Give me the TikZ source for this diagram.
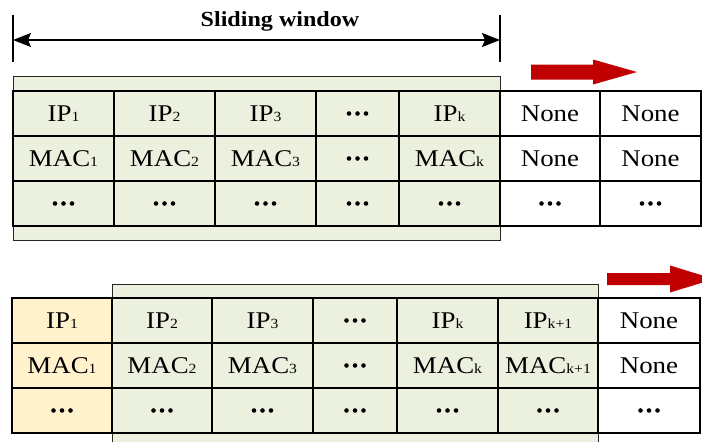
\documentclass[tikz,border=0pt]{standalone}
\usepackage{fontspec}
\setmainfont{Liberation Serif}[FakeStretch=1.12]
\usetikzlibrary{arrows.meta}
\definecolor{wingreen}{RGB}{235,241,222}
\definecolor{oldyellow}{RGB}{255,242,204}
\definecolor{shiftred}{RGB}{192,0,0}
\newcommand\sub[1]{{\fontsize{14}{14}\selectfont #1}}
\newcommand\celldots{\tikz{\foreach \i in {0,1,2} \fill[black] (\i*8.5pt,0pt) circle[radius=2.3pt];}}
\begin{document}
\begin{tikzpicture}[x=1pt,y=-1pt,
  cell/.style={draw=black, line width=1.6pt, inner sep=0pt, anchor=center,
    font=\fontsize{24}{28}\selectfont},
  winbox/.style={draw=black!85, line width=1.4pt, fill=wingreen, inner sep=0pt,
    anchor=north west},
  redarrow/.style={fill=shiftred, draw=none},
  dimline/.style={line width=1.2pt, draw=black}]
\useasboundingbox (0,0) rectangle (702,442);

% ---------------- sliding window label ----------------
\coordinate (tl1) at (13,15);  \coordinate (tl2) at (13,62);
\coordinate (tr1) at (500,15); \coordinate (tr2) at (500,62);
\coordinate (dl) at (13,40);   \coordinate (dr) at (500,40);
\draw[dimline] (tl1) -- (tl2);
\draw[dimline] (tr1) -- (tr2);
\draw[dimline, {Stealth[length=18pt 0,width=14pt 0,inset=3pt 0]}-{Stealth[length=18pt 0,width=14pt 0,inset=3pt 0]}] (dl) -- (dr);
\node[font=\bfseries\fontsize{21.5}{24}\selectfont] (swlabel) at (280,21) {Sliding window};

% ---------------- top table ----------------
\node[winbox, minimum width=487pt, minimum height=164pt] (win1) at (13,76) {};
\foreach \n/\xa/\xb/\f/\t in {1/13/114/none/{IP\sub{1}}, 2/114/215/none/{IP\sub{2}},
   3/215/316/none/{IP\sub{3}}, 4/316/399/none/{\celldots}, 5/399/500/none/{IP\sub{k}},
   6/500/600/white/{None}, 7/600/701/white/{None}}
  \node[cell, fill=\f, minimum width={(\xb-\xa)*1pt}, minimum height=45pt]
    (a1\n) at ({(\xa+\xb)/2},113.5) {\t};
\foreach \n/\xa/\xb/\f/\t in {1/13/114/none/{MAC\sub{1}}, 2/114/215/none/{MAC\sub{2}},
   3/215/316/none/{MAC\sub{3}}, 4/316/399/none/{\celldots}, 5/399/500/none/{MAC\sub{k}},
   6/500/600/white/{None}, 7/600/701/white/{None}}
  \node[cell, fill=\f, minimum width={(\xb-\xa)*1pt}, minimum height=45pt]
    (a2\n) at ({(\xa+\xb)/2},158.5) {\t};
\foreach \n/\xa/\xb/\f in {1/13/114/none, 2/114/215/none, 3/215/316/none, 4/316/399/none,
   5/399/500/none, 6/500/600/white, 7/600/701/white}
  \node[cell, fill=\f, minimum width={(\xb-\xa)*1pt}, minimum height=45pt]
    (a3\n) at ({(\xa+\xb)/2},203.5) {\celldots};

% top red arrow
\fill[redarrow] (531,64.5) -- (593,64.5) -- (593,59.5) -- (637,72) -- (593,84.5)
  -- (593,79.5) -- (531,79.5) -- cycle;

% ---------------- bottom table ----------------
\node[winbox, minimum width=486pt, minimum height=164pt] (win2) at (112,284) {};
\foreach \n/\xa/\xb/\f/\t in {1/12/112/oldyellow/{IP\sub{1}}, 2/112/212/none/{IP\sub{2}},
   3/212/313/none/{IP\sub{3}}, 4/313/397/none/{\celldots}, 5/397/498/none/{IP\sub{k}},
   6/498/598/none/{IP\sub{k+1}}, 7/598/700/white/{None}}
  \node[cell, fill=\f, minimum width={(\xb-\xa)*1pt}, minimum height=45pt]
    (b1\n) at ({(\xa+\xb)/2},320.5) {\t};
\foreach \n/\xa/\xb/\f/\t in {1/12/112/oldyellow/{MAC\sub{1}}, 2/112/212/none/{MAC\sub{2}},
   3/212/313/none/{MAC\sub{3}}, 4/313/397/none/{\celldots}, 5/397/498/none/{MAC\sub{k}},
   6/498/598/none/{MAC\sub{k+1}}, 7/598/700/white/{None}}
  \node[cell, fill=\f, minimum width={(\xb-\xa)*1pt}, minimum height=45pt]
    (b2\n) at ({(\xa+\xb)/2},365.5) {\t};
\foreach \n/\xa/\xb/\f in {1/12/112/oldyellow, 2/112/212/none, 3/212/313/none, 4/313/397/none,
   5/397/498/none, 6/498/598/none, 7/598/700/white}
  \node[cell, fill=\f, minimum width={(\xb-\xa)*1pt}, minimum height=45pt]
    (b3\n) at ({(\xa+\xb)/2},410.5) {\celldots};

% bottom red arrow
\fill[redarrow] (607,273) -- (670,273) -- (670,265.5) -- (714,279) -- (670,292.5)
  -- (670,285) -- (607,285) -- cycle;
\end{tikzpicture}
\end{document}
